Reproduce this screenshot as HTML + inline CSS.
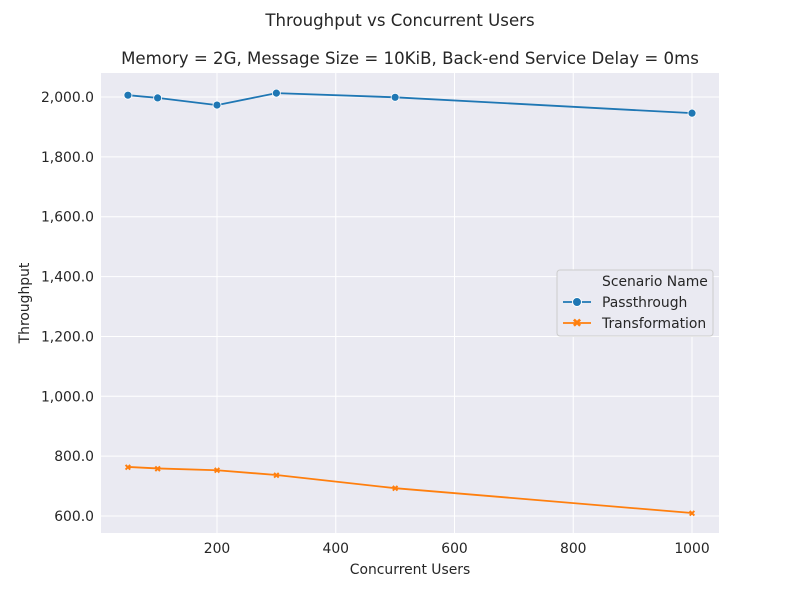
<!DOCTYPE html>
<html><head><meta charset="utf-8"><style>
body{margin:0;background:#fff;}
svg text{font-family:"DejaVu Sans","Liberation Sans",sans-serif;fill:#262626;}
</style></head><body>
<svg id="chart" width="800" height="600" xmlns="http://www.w3.org/2000/svg">
<text x="400" y="26" text-anchor="middle" font-size="16.6">Throughput vs Concurrent Users</text>
<text x="410" y="64" text-anchor="middle" font-size="16.6">Memory = 2G, Message Size = 10KiB, Back-end Service Delay = 0ms</text>
<rect x="101" y="73" width="618" height="460" fill="#eaeaf2"/>
<g id="grid"></g><g id="series"></g>
<text x="410" y="574" text-anchor="middle" font-size="13.9">Concurrent Users</text>
<text x="29" y="303" text-anchor="middle" font-size="13.9" transform="rotate(-90 29 303)">Throughput</text>
<g>
<rect x="557" y="270" width="156" height="66" rx="3" fill="#eaeaf2" stroke="#ccc"/>
<text x="602" y="286" font-size="13.9">Scenario Name</text>
<g><line x1="563" y1="302" x2="591" y2="302" stroke="#1f77b4" stroke-width="1.8"/><circle cx="577" cy="302" r="4.5" fill="#1f77b4" stroke="#fff"/><text x="602" y="307" font-size="13.9">Passthrough</text></g>
<g><line x1="563" y1="323" x2="591" y2="323" stroke="#ff7f0e" stroke-width="1.8"/><text x="577" y="327" font-size="12" text-anchor="middle" style="fill:#ff7f0e;font-weight:bold">✖</text><text x="602" y="328" font-size="13.9">Transformation</text></g>
</g>
</svg>
<script>
const users=[50,100,200,300,500,1000];
const passthrough=[2006,1997,1973,2013,1999,1946];
const transformation=[764,759,753,737,693,610];
const xTicks=[200,400,600,800,1000];
const yTicks=[600,800,1000,1200,1400,1600,1800,2000];
const NS="http://www.w3.org/2000/svg";
const sx=v=>98.25+v*0.59375;
const sy=v=>97+(2000-v)*0.2993;
const grid=document.getElementById('grid'),ser=document.getElementById('series');
function mk(tag,attrs,parent){const e=document.createElementNS(NS,tag);for(const k in attrs)e.setAttribute(k,attrs[k]);parent.appendChild(e);return e;}
xTicks.forEach(t=>{
 const l=mk('line',{x1:sx(t),x2:sx(t),y1:73,y2:533,stroke:'#fff','stroke-width':1},grid);
 
 
 const tx=mk('text',{x:sx(t),y:553,'text-anchor':'middle','font-size':13.9},grid);tx.textContent=t;
 
 
});
yTicks.forEach(t=>{
 const l=mk('line',{x1:101,x2:719,y1:sy(t),y2:sy(t),stroke:'#fff','stroke-width':1},grid);
 
 
 const tx=mk('text',{x:94,y:sy(t)+5,'text-anchor':'end','font-size':13.9},grid);tx.textContent=t.toLocaleString('en-US')+'.0';
 
 
});
function draw(vals,color,name,marker){
 const p=mk('polyline',{points:users.map((u,i)=>sx(u)+','+sy(vals[i])).join(' '),fill:'none',stroke:color,'stroke-width':1.8},ser);
 
 
 users.forEach((u,i)=>{
  let m;
  if(marker==='o'){m=mk('circle',{cx:sx(u),cy:sy(vals[i]),r:4,fill:color,stroke:'#fff','stroke-width':0.8},ser);}
  else{m=mk('text',{x:sx(u),y:sy(vals[i])+3.5,'text-anchor':'middle','font-size':9,style:'fill:'+color+';font-weight:bold'},ser);m.textContent='✖';}
  
  
 });
}
draw(passthrough,'#1f77b4','passthrough','o');
draw(transformation,'#ff7f0e','transformation','x');
</script>
</body></html>
